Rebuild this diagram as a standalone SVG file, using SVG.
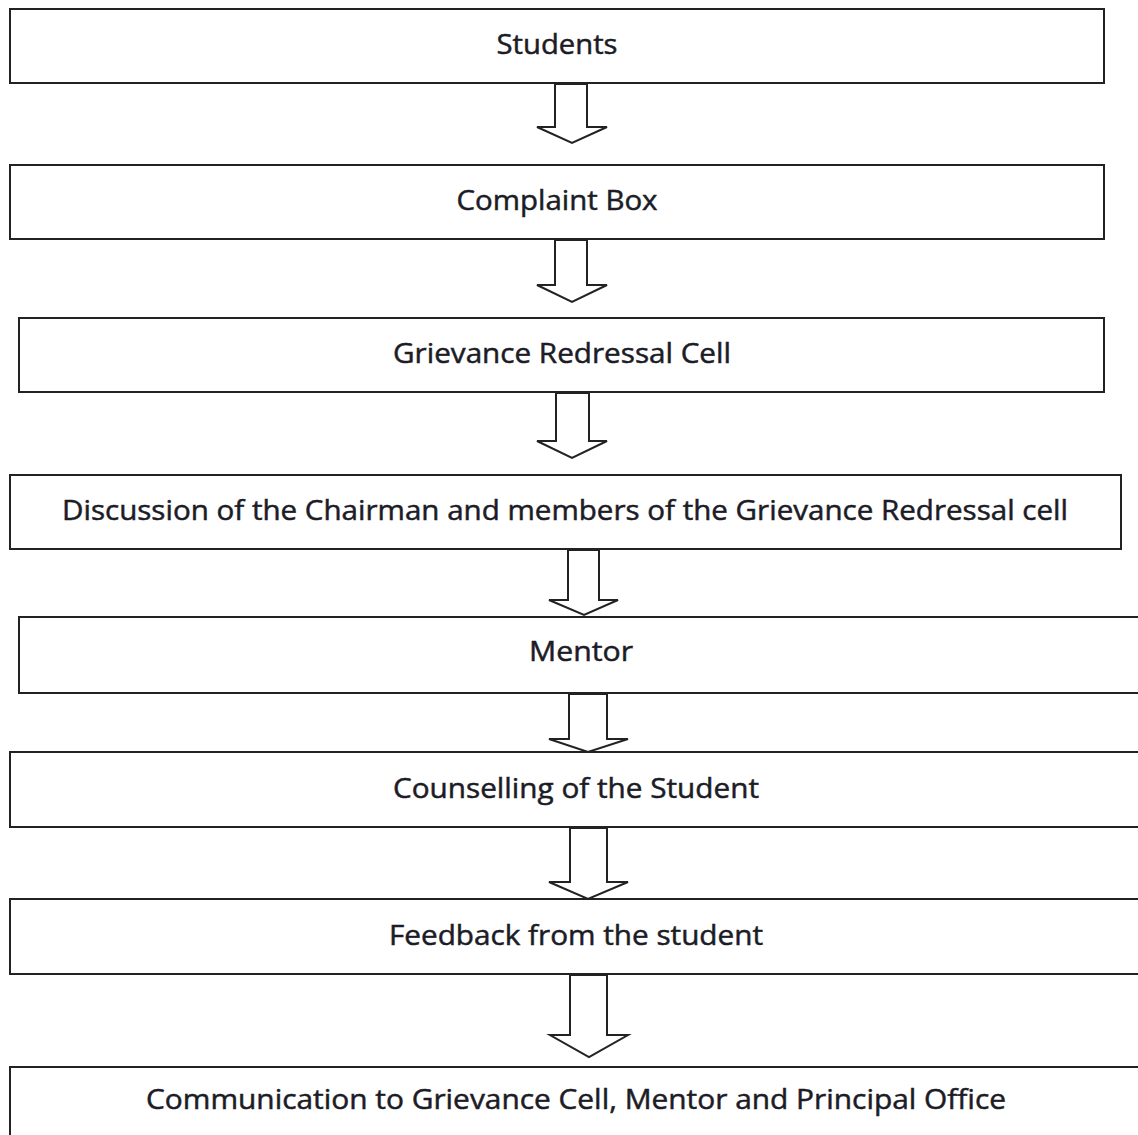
<svg xmlns="http://www.w3.org/2000/svg" width="1138" height="1135" viewBox="0 0 1138 1135">
<style>
.box{fill:#fff;stroke:#222;stroke-width:2}
.arr{fill:#fff;stroke:#222;stroke-width:2;stroke-linejoin:miter}
.lbl{font-family:"Open Sans","Noto Sans",sans-serif;font-size:28px;fill:#1c1c26;stroke:#1c1c26;stroke-width:0.5;text-anchor:middle}
</style>
<rect width="1138" height="1135" fill="#fff"/>
<g id="connectors">
<polygon class="arr" points="555,84 587,84 587,127 607,127 572,143 537,127 555,127"/>
<polygon class="arr" points="555,240 587,240 587,285 607,285 572,302 537,285 555,285"/>
<polygon class="arr" points="556,393 589,393 589,441 607,441 572,458 537,441 556,441"/>
<polygon class="arr" points="568,550 599,550 599,600 618,600 584,615 549,600 568,600"/>
<polygon class="arr" points="569,694 607,694 607,739 628,739 588,752 549,739 569,739"/>
<polygon class="arr" points="570,828 607,828 607,882 628,882 588,899 549,882 570,882"/>
<polygon class="arr" points="570,975 607,975 607,1035 628,1035 589,1057 550,1035 570,1035"/>
</g>
<g id="n1"><rect class="box" x="10" y="9" width="1094" height="74"/><text class="lbl" x="557" y="54" textLength="121" lengthAdjust="spacingAndGlyphs">Students</text></g>
<g id="n2"><rect class="box" x="10" y="165" width="1094" height="74"/><text class="lbl" x="557" y="210" textLength="201" lengthAdjust="spacingAndGlyphs">Complaint Box</text></g>
<g id="n3"><rect class="box" x="19" y="318" width="1085" height="74"/><text class="lbl" x="562" y="363" textLength="338" lengthAdjust="spacingAndGlyphs">Grievance Redressal Cell</text></g>
<g id="n4"><rect class="box" x="10" y="475" width="1111" height="74"/><text class="lbl" x="565" y="520" textLength="1006" lengthAdjust="spacingAndGlyphs">Discussion of the Chairman and members of the Grievance Redressal cell</text></g>
<g id="n5"><rect class="box" x="19" y="617" width="1130" height="76"/><text class="lbl" x="581" y="661" textLength="104" lengthAdjust="spacingAndGlyphs">Mentor</text></g>
<g id="n6"><rect class="box" x="10" y="752" width="1140" height="75"/><text class="lbl" x="576" y="798" textLength="366" lengthAdjust="spacingAndGlyphs">Counselling of the Student</text></g>
<g id="n7"><rect class="box" x="10" y="899" width="1140" height="75"/><text class="lbl" x="576" y="945" textLength="374" lengthAdjust="spacingAndGlyphs">Feedback from the student</text></g>
<g id="n8"><rect class="box" x="10" y="1067" width="1140" height="80"/><text class="lbl" x="576" y="1109" textLength="860" lengthAdjust="spacingAndGlyphs">Communication to Grievance Cell, Mentor and Principal Office</text></g>
</svg>
